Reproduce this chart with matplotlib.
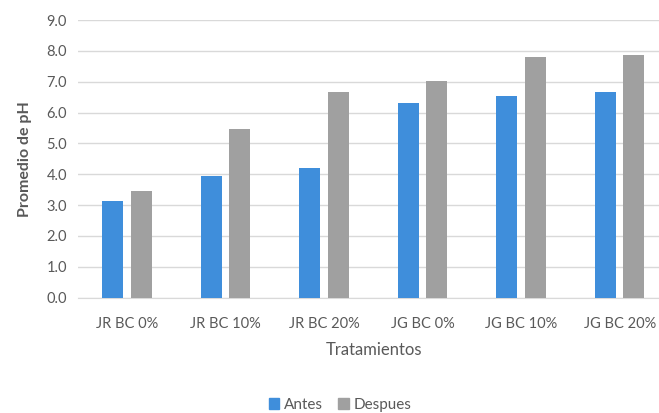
import numpy as np
import matplotlib
matplotlib.use('Agg')
import matplotlib.pyplot as plt
from matplotlib.patches import Patch

# data
tratamientos = ['JR BC 0%', 'JR BC 10%', 'JR BC 20%', 'JG BC 0%', 'JG BC 10%', 'JG BC 20%']
antes = [3.14, 3.93, 4.21, 6.31, 6.54, 6.66]
despues = [3.45, 5.47, 6.68, 7.01, 7.80, 7.86]
yticks = [0.0, 1.0, 2.0, 3.0, 4.0, 5.0, 6.0, 7.0, 8.0, 9.0]

blue = '#3F8EDB'
gray = '#A0A0A0'
txt = '#595959'

plt.rcParams['font.family'] = ['Lato', 'DejaVu Sans']

fig = plt.figure(figsize=(6.59, 4.13), dpi=100)
# axes goes a bit past the right edge, like the cropped original
ax = fig.add_axes([78 / 659, 1 - 297.7 / 413, 591 / 659, 277.7 / 413])

x = np.arange(len(tratamientos))
w = 0.215
ax.bar(x - 0.147, antes, width=w, color=blue, zorder=3)
ax.bar(x + 0.142, despues, width=w, color=gray, zorder=3)

ax.set_xlim(-0.5, 5.5)
ax.set_ylim(0, 9)
ax.set_yticks(yticks)
ax.set_yticklabels(['%.1f' % v for v in yticks])
ax.set_xticks(x)
ax.set_xticklabels(tratamientos)
ax.grid(axis='y', color='#D9D9D9', linewidth=1, zorder=0)

for s in ['top', 'right', 'left']:
    ax.spines[s].set_visible(False)
ax.spines['bottom'].set_color('#D9D9D9')
ax.tick_params(length=0, colors=txt, labelsize=10.5)
ax.tick_params(axis='x', pad=14)
ax.tick_params(axis='y', pad=8)

ax.set_ylabel('Promedio de pH', color=txt, fontsize=11.5, fontweight='bold', labelpad=10)
ax.set_xlabel('Tratamientos', color=txt, fontsize=12, labelpad=8)

handles = [Patch(color=blue, label='Antes'), Patch(color=gray, label='Despues')]
fig.legend(handles=handles, loc='center', bbox_to_anchor=(340 / 659, 1 - 405 / 413),
           ncol=2, frameon=False, fontsize=11, labelcolor=txt,
           handlelength=0.7, handleheight=0.7, handletextpad=0.3, columnspacing=1.0)

fig.savefig('out.png', dpi=100)
